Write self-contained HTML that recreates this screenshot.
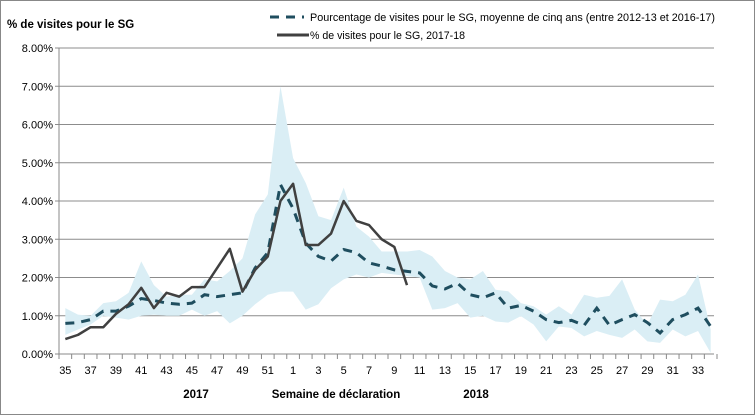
<!DOCTYPE html>
<html><head><meta charset="utf-8"><style>
html,body{margin:0;padding:0;background:#fff;}
svg{display:block;font-family:"Liberation Sans",sans-serif;}
</style></head><body>
<svg id="chart" width="756" height="416" viewBox="0 0 756 416" xmlns="http://www.w3.org/2000/svg">
<rect x="0.5" y="0.5" width="754" height="414" fill="#fff" stroke="#888"/>
<text x="7" y="28" font-size="11.5" font-weight="bold" fill="#000">% de visites pour le SG</text>
<g>
<line x1="270" y1="17" x2="304" y2="17" stroke="#1f4e5f" stroke-width="3" stroke-dasharray="9,7"/>
<text x="310" y="21" font-size="11" textLength="405" lengthAdjust="spacingAndGlyphs">Pourcentage de visites pour le SG, moyenne de cinq ans (entre 2012-13 et 2016-17)</text>
<line x1="277" y1="35" x2="309" y2="35" stroke="#404040" stroke-width="3"/>
<text x="310" y="39" font-size="11" textLength="155" lengthAdjust="spacingAndGlyphs">% de visites pour le SG, 2017-18</text>
</g>
<g id="grid"></g>
<g id="band"></g>
<g id="lines"></g>
<g id="axes"></g>
<text x="196" y="398" font-size="11.5" font-weight="bold" text-anchor="middle">2017</text>
<text x="336" y="398" font-size="11.5" font-weight="bold" text-anchor="middle">Semaine de déclaration</text>
<text x="476" y="398" font-size="11.5" font-weight="bold" text-anchor="middle">2018</text>
</svg>
<script>
const weeks = [35,36,37,38,39,40,41,42,43,44,45,46,47,48,49,50,51,52,1,2,3,4,5,6,7,8,9,10,11,12,13,14,15,16,17,18,19,20,21,22,23,24,25,26,27,28,29,30,31,32,33,34];
const current = [0.39,0.5,0.7,0.7,1.05,1.3,1.73,1.2,1.6,1.5,1.75,1.75,2.25,2.75,1.63,2.2,2.55,4.0,4.45,2.85,2.85,3.15,4.0,3.48,3.37,3.0,2.8,1.8];
const average = [0.8,0.82,0.9,1.12,1.12,1.25,1.45,1.4,1.33,1.3,1.33,1.55,1.5,1.55,1.6,2.25,2.65,4.43,3.8,2.9,2.55,2.43,2.73,2.65,2.38,2.3,2.2,2.16,2.12,1.78,1.7,1.85,1.55,1.47,1.6,1.2,1.27,1.12,0.9,0.82,0.88,0.75,1.2,0.75,0.9,1.03,0.82,0.55,0.9,1.03,1.2,0.72];
const bandHigh = [1.2,1.03,1.0,1.33,1.38,1.6,2.42,1.8,1.5,1.55,1.55,1.95,1.9,2.17,2.5,3.65,4.17,7.0,5.12,4.47,3.6,3.5,4.35,3.33,3.07,2.68,2.68,2.68,2.72,2.55,2.17,2.0,1.95,2.17,1.68,1.64,1.33,1.25,1.03,1.25,1.03,1.55,1.47,1.52,1.95,1.16,0.77,1.42,1.38,1.55,2.08,0.64];
const bandLow = [0.5,0.64,0.77,1.0,0.95,0.9,1.0,1.03,1.0,1.0,1.16,1.0,1.12,0.8,1.0,1.3,1.55,1.63,1.63,1.16,1.3,1.72,1.95,2.08,2.0,2.12,2.08,2.04,2.0,1.16,1.2,1.33,0.95,1.0,0.85,0.82,0.99,0.77,0.33,0.72,0.68,0.46,0.6,0.5,0.42,0.64,0.33,0.29,0.64,0.46,0.6,0.03];
const yTicks = [0,1,2,3,4,5,6,7,8];

const NS="http://www.w3.org/2000/svg";
const L=59, R=717, T=48, B=354, YMAX=8;
const step=(R-L)/weeks.length;
const x=i=>L+step*(i+0.5);
const y=v=>B-(v/YMAX)*(B-T);
function mk(tag,attrs,parent){const e=document.createElementNS(NS,tag);for(const k in attrs)e.setAttribute(k,attrs[k]);parent.appendChild(e);return e;}
const grid=document.getElementById('grid'),band=document.getElementById('band'),lines=document.getElementById('lines'),axes=document.getElementById('axes');

yTicks.forEach(t=>{
  const g=mk('line',{x1:L-4,x2:R-3,y1:y(t),y2:y(t),stroke:t===0?'#888':'#8c8c8c','stroke-width':1},grid);
  
  
  const tx=mk('text',{x:L-6,y:y(t)+4,'font-size':11,'text-anchor':'end',fill:'#000'},axes);
  tx.textContent=t.toFixed(2)+'%';
  
  
});
const ya=mk('line',{x1:L,x2:L,y1:T,y2:B,stroke:'#888'},axes);


for(let i=0;i<=weeks.length;i++){
  const tk=mk('line',{x1:L+step*i,x2:L+step*i,y1:B,y2:B+5,stroke:'#888'},axes);
  
  
}
weeks.forEach((w,i)=>{
  if(i%2===0){
    const t=mk('text',{x:x(i),y:B+20,'font-size':11,'text-anchor':'middle'},axes);
    t.textContent=w;
    
    
  }
});

let d='';
bandHigh.forEach((v,i)=>{d+=(i?'L':'M')+x(i)+','+y(v);});
for(let i=bandLow.length-1;i>=0;i--)d+='L'+x(i)+','+y(bandLow[i]);
const bp=mk('path',{d:d+'Z',fill:'#daeef5'},band);



const avg=mk('path',{d:average.map((v,i)=>(i?'L':'M')+x(i)+','+y(v)).join(''),fill:'none',stroke:'#1f4e5f','stroke-width':3,'stroke-dasharray':'9,7'},lines);


const cur=mk('path',{d:current.map((v,i)=>(i?'L':'M')+x(i)+','+y(v)).join(''),fill:'none',stroke:'#404040','stroke-width':2.5,'stroke-linejoin':'round'},lines);


</script>
</body></html>
